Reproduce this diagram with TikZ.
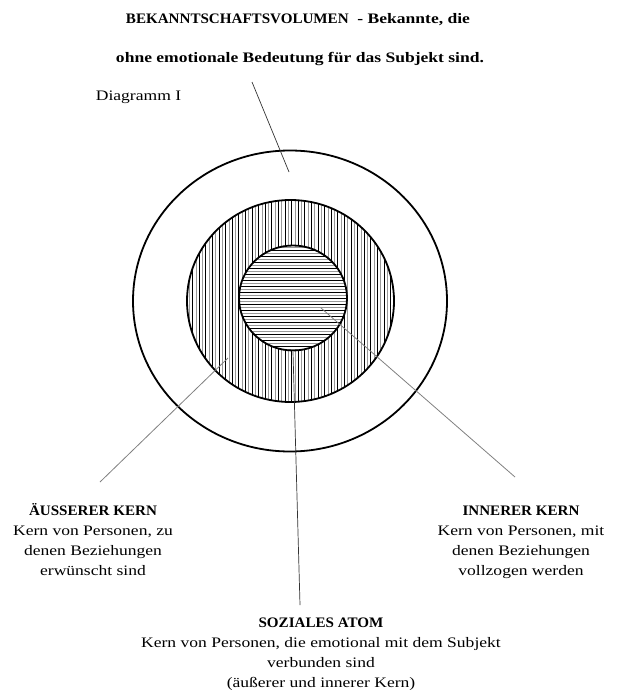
\documentclass[tikz,border=0pt]{standalone}
\usepackage{graphicx}
\usepackage{fontspec}
\setmainfont{Liberation Serif}[FakeStretch=1.21]
\newcommand\capsx[1]{\scalebox{0.86}[1]{#1}}
\begin{document}
\begin{tikzpicture}[x=1pt,y=-1pt,
  lbl/.style={align=center, font=\fontsize{14.5}{20}\selectfont, inner sep=0pt, anchor=base},
  ttl/.style={font=\bfseries\fontsize{14.5}{20}\selectfont, inner sep=0pt, anchor=base},
  ring/.style={draw=black, line width=1.8pt},
  conn/.style={draw=black!50, line width=0.8pt},
  connd/.style={draw=black!80, line width=0.7pt},
  hatchA/.style={draw=black, line width=0.8pt},
  hatchB/.style={draw=black!40, line width=0.8pt},
]
\useasboundingbox (0,0) rectangle (618,690);

% outer ring
\draw[ring] (290,301) ellipse [x radius=157, y radius=150.5];

% middle annulus with vertical hatching
\begin{scope}
  \clip (290.5,301) ellipse [x radius=103.5, y radius=101];
  \foreach \i in {0,2,...,64} {\draw[hatchA] (186+\i*3.3,195) -- ++(0,212);}
  \foreach \i in {1,3,...,63} {\draw[hatchB] (186+\i*3.3,195) -- ++(0,212);}
\end{scope}
\draw[ring] (290.5,301) ellipse [x radius=103.5, y radius=101];

% inner circle with horizontal hatching
\fill[white] (293,298) ellipse [x radius=54, y radius=52.5];
\begin{scope}
  \clip (293,298) ellipse [x radius=54, y radius=52.5];
  \foreach \i in {0,2,...,36} {\draw[hatchA] (235,244+\i*3) -- ++(116,0);}
  \foreach \i in {1,3,...,35} {\draw[hatchB] (235,244+\i*3) -- ++(116,0);}
\end{scope}
\draw[ring] (293,298) ellipse [x radius=54, y radius=52.5];

% texts
\node[ttl] (t1) at (298,24) {\capsx{BEKANNTSCHAFTSVOLUMEN}\ \ - Bekannte, die};
\node[ttl] (t2) at (300,63) {ohne emotionale Bedeutung für das Subjekt sind.};
\node[lbl] (dg) at (138.5,101) {Diagramm I};
\node[lbl] (ak) at (93,575) {\textbf{\capsx{ÄUSSERER KERN}}\\Kern von Personen, zu\\denen Beziehungen\\erwünscht sind};
\node[lbl] (ik) at (521,575) {\textbf{\capsx{INNERER KERN}}\\Kern von Personen, mit\\denen Beziehungen\\vollzogen werden};
\node[lbl] (sa) at (321,687) {\textbf{\capsx{SOZIALES ATOM}}\\Kern von Personen, die emotional mit dem Subjekt\\verbunden sind\\(äußerer und innerer Kern)};

% connector end points
\coordinate (pt) at (252,82);
\coordinate (qt) at (289,172);
\coordinate (pa) at (100,482);
\coordinate (qa) at (228,358);
\coordinate (ps) at (300,605);
\coordinate (qs) at (293,352);
\coordinate (pi) at (515,477);
\coordinate (qi) at (321,308);

\draw[connd] (pt) -- (qt);
\draw[conn] (pa) -- (qa);
\draw[connd] (ps) -- (qs);
\draw[conn] (pi) -- (qi);
\end{tikzpicture}
\end{document}
